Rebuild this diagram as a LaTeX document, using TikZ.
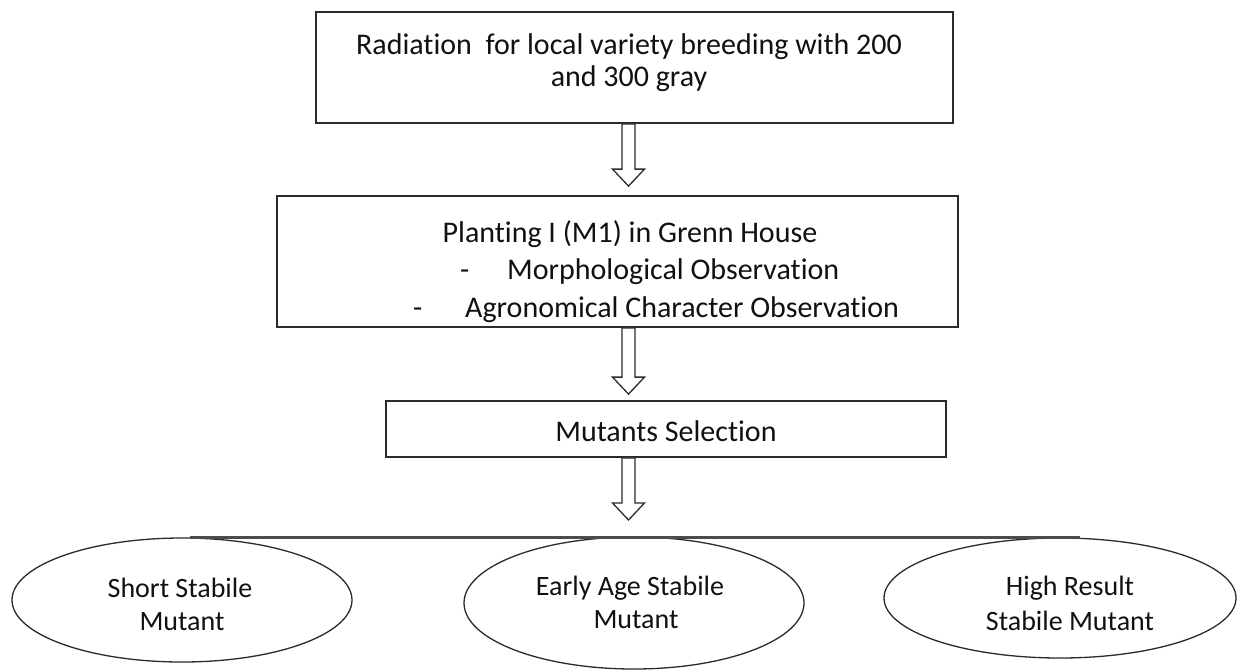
\documentclass[tikz,border=0pt]{standalone}
\usepackage{fontspec}
\setmainfont{Carlito}[Ligatures={NoCommon,NoRare,NoContextual}]
\usetikzlibrary{calc,shapes.geometric}
\definecolor{ink}{HTML}{111111}
\definecolor{edge}{HTML}{2B2B2B}
\newcommand\hollowarrow[2]{%
  \draw[harrow] ($(#1)+(-6.5,0)$) -- ($(#2)+(-6.5,-17)$) -- ($(#2)+(-16,-17)$) -- (#2)
    -- ($(#2)+(16,-17)$) -- ($(#2)+(6.5,-17)$) -- ($(#1)+(6.5,0)$) -- cycle;}
\begin{document}
\begin{tikzpicture}[x=1pt,y=-1pt,
  boxnode/.style={draw=edge, line width=1.8pt, inner sep=0pt, fill=white},
  ellnode/.style={ellipse, draw=edge, line width=1.3pt, inner sep=0pt},
  txt/.style={inner sep=0pt, text=ink, font=\fontsize{30}{36}\selectfont},
  etxt/.style={inner sep=0pt, text=ink, font=\fontsize{28}{33}\selectfont},
  harrow/.style={draw=edge, line width=1.3pt, fill=white, line join=miter},
  barline/.style={draw=black!70, line width=3pt}]
\useasboundingbox (0,0) rectangle (1239,670);
\fill[white] (0,0) rectangle (1239,670);
% boxes
\node[boxnode, minimum width=637pt, minimum height=111pt] (b1) at (634.5,67.5) {};
\node[boxnode, minimum width=681pt, minimum height=131pt] (b2) at (617.5,261.5) {};
\node[boxnode, minimum width=560pt, minimum height=56pt] (b3) at (666,429) {};
% box texts
\node[txt, anchor=base] (r1) at (629,54) {Radiation\ \ for local variety breeding with 200};
\node[txt, anchor=base] (r2) at (629,86) {and 300 gray};
\node[txt, anchor=base] (p1) at (630,242) {Planting I (M1) in Grenn House};
\node[txt, anchor=base west] (p2d) at (460,279) {-};
\node[txt, anchor=base west] (p2) at (507,279) {Morphological Observation};
\node[txt, anchor=base west] (p3d) at (413,317) {-};
\node[txt, anchor=base west] (p3) at (465,317) {Agronomical Character Observation};
\node[txt, anchor=base] (m1) at (666,441) {Mutants Selection};
% arrows
\coordinate (ax) at (628.5,0);
\coordinate (a1s) at (b1.south -| ax);
\coordinate (a1e) at ($(b2.north -| ax)+(0,-9)$);
\coordinate (a2s) at (b2.south -| ax);
\coordinate (a2e) at ($(b3.north -| ax)+(0,-6)$);
\coordinate (a3s) at (b3.south -| ax);
\coordinate (hl) at (190,537);
\coordinate (hr) at (1080,537);
\coordinate (a3e) at ($(hl -| ax)+(0,-17)$);
\hollowarrow{a1s}{a1e}
\hollowarrow{a2s}{a2e}
\hollowarrow{a3s}{a3e}
% ellipses
\node[ellnode, minimum width=340pt, minimum height=124pt] (e1) at (182,600) {};
\node[ellnode, minimum width=340pt, minimum height=132pt] (e2) at (634,603) {};
\node[ellnode, minimum width=352pt, minimum height=120pt] (e3) at (1060,598) {};
\draw[barline] (hl) -- (hr);
% ellipse texts
\node[etxt, anchor=base] (e1a) at (180,597) {Short Stabile};
\node[etxt, anchor=base] (e1b) at (182,630) {Mutant};
\node[etxt, anchor=base] (e2a) at (630,595) {Early Age Stabile};
\node[etxt, anchor=base] (e2b) at (636,628) {Mutant};
\node[etxt, anchor=base] (e3a) at (1070,595) {High Result};
\node[etxt, anchor=base] (e3b) at (1070,630) {Stabile Mutant};
\end{tikzpicture}
\end{document}
